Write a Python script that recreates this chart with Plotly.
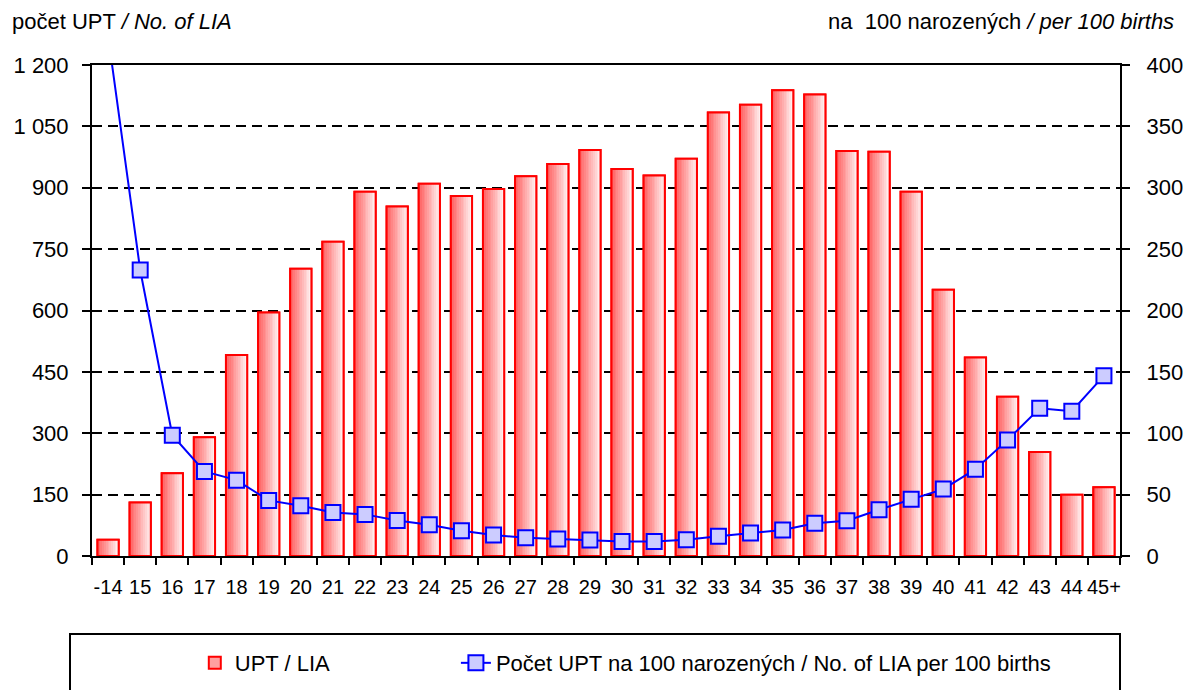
import plotly.graph_objects as go

categories = ["-14"] + [str(a) for a in range(15, 45)] + ["45+"]
upt_counts = [40, 131, 202, 290, 491, 595, 702, 768, 890, 854, 910, 880, 897, 928, 958, 992,
              946, 930, 971, 1084, 1103, 1138, 1128, 990, 988, 890, 651, 485, 389, 254, 150, 168]
upt_per_100 = [424, 233, 98.4, 68.9, 61.8, 45.3, 40.9, 35.5, 33.9, 29.0, 25.5, 20.6, 17.1, 14.9,
               13.8, 13.0, 11.9, 11.9, 13.3, 16.0, 18.7, 21.2, 26.6, 28.7, 37.7, 46.3, 54.5,
               70.7, 94.6, 120.3, 118.0, 146.9]
left_ticks = [0, 150, 300, 450, 600, 750, 900, 1050, 1200]
left_ticktext = ["0", "150", "300", "450", "600", "750", "900", "1 050", "1 200"]

FONT = "Liberation Sans, Arial, sans-serif"
FS = 22

fig = go.Figure()

BW = 0.66
N = 12
c0 = (255, 95, 95)
c1 = (255, 238, 238)

# base (legend) bar
fig.add_trace(go.Bar(x=categories, y=upt_counts, width=BW, name="UPT / LIA",
                     marker=dict(color="rgb(255,160,160)", line=dict(color="#ff0000", width=2)),
                     yaxis="y", legend="legend"))
for k in range(N):
    t = k / (N - 1)
    col = "rgb(%d,%d,%d)" % tuple(round(a + (b - a) * t) for a, b in zip(c0, c1))
    fig.add_trace(go.Bar(x=categories, y=upt_counts, width=BW / N + 0.002,
                         offset=-BW / 2 + k * BW / N, showlegend=False, hoverinfo="skip",
                         marker=dict(color=col, line=dict(width=0)), yaxis="y"))
fig.add_trace(go.Bar(x=categories, y=upt_counts, width=BW, showlegend=False, hoverinfo="skip",
                     marker=dict(color="rgba(0,0,0,0)", line=dict(color="#ff0000", width=2)),
                     yaxis="y"))

fig.add_trace(go.Scatter(x=categories, y=upt_per_100, yaxis="y2", mode="lines+markers",
                         name="Počet UPT na 100 narozených / No. of LIA per 100 births",
                         legend="legend2",
                         line=dict(color="#0000ff", width=2),
                         marker=dict(symbol="square", size=15, color="#ccccff",
                                     line=dict(color="#0000ff", width=2))))

legend_common = dict(orientation="h", yanchor="middle", xanchor="left",
                     font=dict(family=FONT, size=FS, color="black"),
                     bgcolor="rgba(0,0,0,0)", borderwidth=0)

GRID_DASH = "10px,6px"

fig.update_layout(
    width=1184, height=690,
    margin=dict(l=92, r=64, t=65, b=134, autoexpand=False),
    paper_bgcolor="white", plot_bgcolor="white",
    barmode="overlay",
    font=dict(family=FONT, size=FS, color="black"),
    showlegend=True,
    legend=dict(x=0.100, y=-0.218, **legend_common),
    legend2=dict(x=0.354, y=-0.218, **legend_common),
    xaxis=dict(type="category", range=[-0.5, 31.5], tickson="boundaries", ticks="outside",
               ticklen=7, tickwidth=2, tickcolor="black", showline=True, linecolor="black",
               linewidth=2, mirror=True, showgrid=False, tickangle=0, automargin=False,
               ticklabelstandoff=12, tickfont=dict(family=FONT, size=20)),
    yaxis=dict(range=[0, 1200], tickvals=left_ticks, ticktext=left_ticktext,
               ticks="outside", ticklen=8, tickwidth=2, tickcolor="black",
               showline=True, linecolor="black", linewidth=2, automargin=False,
               ticklabelstandoff=9,
               showgrid=True, gridcolor="black", gridwidth=1.5, griddash=GRID_DASH,
               zeroline=False, tickfont=dict(family=FONT, size=FS)),
    yaxis2=dict(range=[0, 400], dtick=50, overlaying="y", side="right",
                ticks="outside", ticklen=8, tickwidth=2, tickcolor="black",
                showline=True, linecolor="black", linewidth=2, showgrid=False,
                tickprefix="\u00a0\u00a0",
                zeroline=False, automargin=False, tickfont=dict(family=FONT, size=FS)),
    annotations=[
        dict(text="počet UPT <i>/ No. of LIA</i>", xref="paper", yref="paper",
             x=-0.0798, y=1.0876, xanchor="left", yanchor="middle", showarrow=False,
             font=dict(family=FONT, size=FS)),
        dict(text="na  100 narozených <i>/ per 100 births</i>", xref="paper", yref="paper",
             x=1.0545, y=1.0876, xanchor="right", yanchor="middle", showarrow=False,
             font=dict(family=FONT, size=FS)),
    ],
    shapes=[dict(type="rect", xref="paper", yref="paper", x0=-0.0214, x1=1.0,
                 y0=-0.159, y1=-0.32, line=dict(color="black", width=2),
                 fillcolor="rgba(0,0,0,0)", layer="below")],
)

fig.write_html("out.html", config={"displayModeBar": False},
               post_script="document.body.style.margin='0';")
